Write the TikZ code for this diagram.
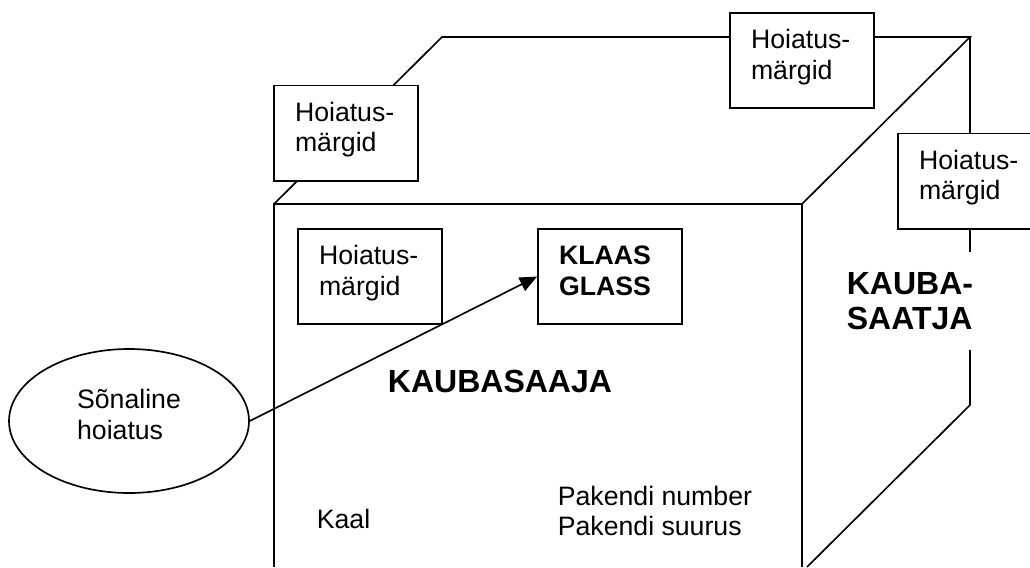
\documentclass[tikz,border=0pt]{standalone}
\usepackage{fontspec}
\setmainfont{Liberation Sans}
\usetikzlibrary{shapes.geometric,arrows.meta}
\tikzset{
	tyhik/.style={execute at end node={\par\vspace{#1}}},
	hoiatus/.style={draw,fill=white,rectangle,minimum width=108pt,minimum height=71.5pt,inner xsep=15.75pt,inner ysep=0pt,text width=76.5pt,align=left,tyhik=5pt},
	tavatekst/.style={font=\fontsize{20}{23}\selectfont},
	pealkiri/.style={font=\fontsize{24}{26.3}\selectfont\bfseries,align=left,inner sep=0pt}
}
\begin{document}
\begin{tikzpicture}[x=0.75pt,y=-0.75pt,>={Triangle[length=13pt,width=11pt]},line width=1.25pt,line join=miter,tavatekst]
	\useasboundingbox (0,0) rectangle (1030,567);
	\clip (0,0) rectangle (1030,567);
	% kast
	\coordinate (ev) at (274,204);
	\coordinate (ep) at (802,204);
	\coordinate (ta) at (442,37);
	\coordinate (tp) at (970,37);
	\coordinate (pk) at (970,405);
	\draw (ev|-0,567)--(ev)--(ep)--(ep|-0,567);
	\draw (ev)--(ta)--(tp)--(ep);
	\draw (tp)--(970,252);
	\draw (970,350)--(pk)--(807,567);
	% sildid
	\node[hoiatus] (kast1) at (346,133) {Hoiatus-\\märgid};
	\node[hoiatus] (kast2) at (802,60.5) {Hoiatus-\\märgid};
	\node[hoiatus] (kast3) at (970,181) {Hoiatus-\\märgid};
	\node[hoiatus] (kast4) at (370,276.5) {Hoiatus-\\märgid};
	\node[hoiatus,tyhik=4pt,font=\fontsize{20}{23}\selectfont\bfseries] (klaas) at (610,276.5) {KLAAS\\GLASS};
	\node[draw,ellipse,minimum width=180pt,minimum height=108pt,inner sep=0pt,text depth=10.5pt,align=left] (sona) at (129,421) {Sõnaline\\hoiatus};
	\draw[->] (sona.east)--(klaas.west);
	% tekstid
	\node[pealkiri] (saaja) at (500,381) {KAUBASAAJA};
	\node[pealkiri,anchor=west] (saatja) at (846,301) {KAUBA-\\SAATJA};
	\node[anchor=west,inner sep=0pt] (kaal) at (316,519) {Kaal};
	\node[anchor=west,inner sep=0pt,align=left] (pakend) at (557,511) {Pakendi number\\Pakendi suurus};
\end{tikzpicture}
\end{document}
